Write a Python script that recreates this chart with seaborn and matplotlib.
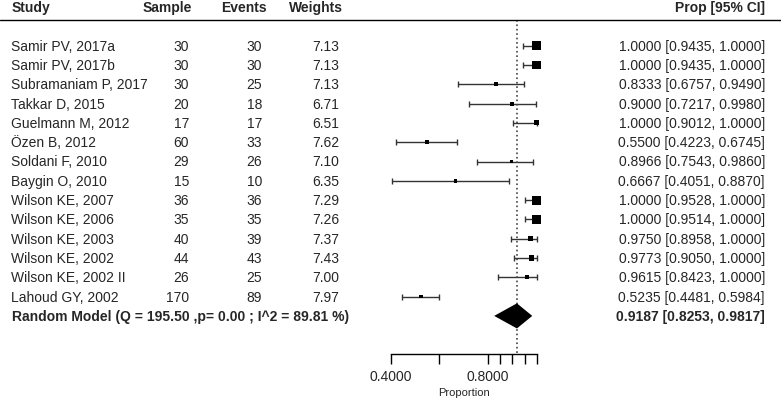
import matplotlib
matplotlib.use('Agg')
import matplotlib.pyplot as plt
import numpy as np
import pandas as pd
import seaborn as sns

studies = ["Samir PV, 2017a", "Samir PV, 2017b", "Subramaniam P, 2017", "Takkar D, 2015",
           "Guelmann M, 2012", "Özen B, 2012", "Soldani F, 2010", "Baygin O, 2010",
           "Wilson KE, 2007", "Wilson KE, 2006", "Wilson KE, 2003", "Wilson KE, 2002",
           "Wilson KE, 2002 II", "Lahoud GY, 2002"]
sample = [30, 30, 30, 20, 17, 60, 29, 15, 36, 35, 40, 44, 26, 170]
events = [30, 30, 25, 18, 17, 33, 26, 10, 36, 35, 39, 43, 25, 89]
weights = [7.13, 7.13, 7.13, 6.71, 6.51, 7.62, 7.10, 6.35, 7.29, 7.26, 7.37, 7.43, 7.00, 7.97]
prop = [1.0, 1.0, 0.8333, 0.9, 1.0, 0.55, 0.8966, 0.6667, 1.0, 1.0, 0.975, 0.9773, 0.9615, 0.5235]
ci_low = [0.9435, 0.9435, 0.6757, 0.7217, 0.9012, 0.4223, 0.7543, 0.4051, 0.9528, 0.9514,
          0.8958, 0.9050, 0.8423, 0.4481]
ci_high = [1.0, 1.0, 0.9490, 0.9980, 1.0, 0.6745, 0.9860, 0.8870, 1.0, 1.0, 1.0, 1.0, 1.0, 0.5984]

pooled = 0.9187
pooled_low = 0.8253
pooled_high = 0.9817
q_stat = 195.50
p_val = 0.00
i2 = 89.81

axis_ticks = [0.4, 0.6, 0.8, 0.85, 0.9, 0.95, 1.0]
axis_labels = ["0.4000", "", "0.8000", "", "", "", ""]

sns.set_style('white')
plt.rcParams['font.family'] = ['Liberation Sans', 'DejaVu Sans']

df = pd.DataFrame({'study': studies, 'prop': prop, 'lo': ci_low, 'hi': ci_high})
df['row'] = np.arange(len(df))
# square size from precision (narrower CI -> bigger box)
side_px = np.clip(0.5 / (df['hi'] - df['lo']), 3.8, 9.2)
df['area'] = (side_px * 0.72) ** 2

W, H = 781, 402
fig = plt.figure(figsize=(W / 100, H / 100), dpi=100)
ax = fig.add_axes([0, 0, 1, 1])

# pixel mapping: 0.4 -> 390.7px, 1.0 -> 536.7px ; row r -> 46.7 + 19.3 r px
sx = (536.7 - 390.7) / 0.6
ax.set_xlim(0.4 - 390.7 / sx, 0.4 + (W - 390.7) / sx)
ax.set_ylim((H - 46.7) / 19.3, -46.7 / 19.3)
ax.axis('off')

ax.errorbar(df['prop'], df['row'], xerr=[df['prop'] - df['lo'], df['hi'] - df['prop']],
            fmt='none', ecolor='#333333', elinewidth=1, capsize=2.2, capthick=1)
sns.scatterplot(data=df, x='prop', y='row', marker='s', s=df['area'].values,
                color='black', linewidth=0, ax=ax, zorder=3, legend=False)

n = len(df)
ax.fill([pooled_low, pooled, pooled_high, pooled], [n, n - 0.65, n, n + 0.65],
        color='black', lw=0, zorder=3)

axis_row = (355 - 46.7) / 19.3
ax.vlines(pooled, -1.33, axis_row, colors='#444444', linestyles=':', lw=1.2)
ax.axhline(-1.33, color='black', lw=1)

tr = ax.get_yaxis_transform()
cols = [('Study', 12 / W, 'left'), ('Sample', 192 / W, 'right'), ('Events', 267 / W, 'right'),
        ('Weights', 343 / W, 'right'), ('Prop [95% CI]', 765 / W, 'right')]
for label, x, ha in cols:
    ax.text(x, -2, label, transform=tr, ha=ha, va='center', fontsize=10, fontweight='bold')

for i in range(n):
    ax.text(11 / W, i, studies[i], transform=tr, ha='left', va='center', fontsize=10)
    ax.text(189 / W, i, str(sample[i]), transform=tr, ha='right', va='center', fontsize=10)
    ax.text(262 / W, i, str(events[i]), transform=tr, ha='right', va='center', fontsize=10)
    ax.text(339 / W, i, f"{weights[i]:.2f}", transform=tr, ha='right', va='center', fontsize=10)
    ax.text(765 / W, i, f"{prop[i]:.4f} [{ci_low[i]:.4f}, {ci_high[i]:.4f}]",
            transform=tr, ha='right', va='center', fontsize=10)

ax.text(12 / W, n, f"Random Model (Q = {q_stat:.2f} ,p= {p_val:.2f} ; I^2 = {i2:.2f} %)",
        transform=tr, ha='left', va='center', fontsize=10, fontweight='bold')
ax.text(765 / W, n, f"{pooled:.4f} [{pooled_low:.4f}, {pooled_high:.4f}]",
        transform=tr, ha='right', va='center', fontsize=10, fontweight='bold')

# x axis of the forest plot
axx = fig.add_axes([390.7 / W, (H - 355) / H, 146 / W, 0.0001])
axx.set_xlim(0.4, 1.0)
axx.set_yticks([])
for s in ['top', 'left', 'right']:
    axx.spines[s].set_visible(False)
axx.spines['bottom'].set_linewidth(1)
axx.spines['bottom'].set_color('black')
axx.set_xticks(axis_ticks)
axx.set_xticklabels(axis_labels)
axx.tick_params(axis='x', bottom=True, direction='out', length=7, width=1, pad=4,
                labelsize=10, color='black')
axx.set_xlabel('Proportion', fontsize=8, labelpad=3)
axx.patch.set_visible(False)

fig.savefig('out.png', dpi=100)
